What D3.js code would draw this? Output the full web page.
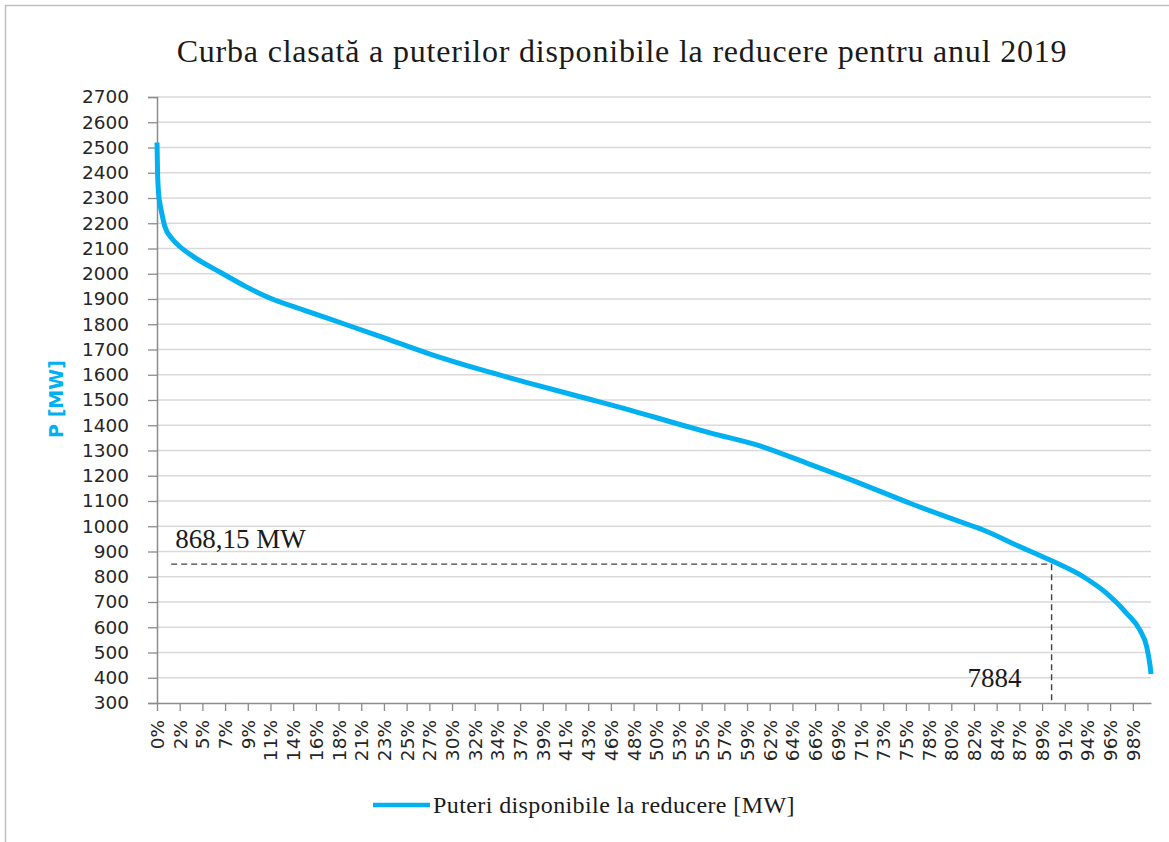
<!DOCTYPE html>
<html>
<head>
<meta charset="utf-8">
<script src="https://cdn.jsdelivr.net/npm/d3@7"></script>
<style>
  body { margin: 0; background: #fff; }
  svg { display: block; }
</style>
</head>
<body>
<svg id="chart" width="1169" height="842"></svg>
<script>
// hours of the year (sorted duration curve) and available power [MW]
const hours = [0, 5, 12, 25, 42, 70, 130, 203, 320, 573, 780, 978, 1300, 1657, 1965, 2406, 2847, 3287, 3728, 4169, 4609, 4874, 5314, 5755, 6196, 6636, 7077, 7282, 7576, 7870, 8164, 8370, 8546, 8663, 8722, 8751, 8760];
const power = [2520, 2400, 2330, 2280, 2240, 2186, 2140, 2107, 2068, 2002, 1950, 1907, 1855, 1800, 1752, 1682, 1621, 1566, 1513, 1460, 1403, 1370, 1318, 1245, 1170, 1091, 1018, 985, 925, 866, 800, 734, 655, 588, 523, 450, 415];

const yTicks = [300, 400, 500, 600, 700, 800, 900, 1000, 1100, 1200, 1300, 1400, 1500, 1600, 1700, 1800, 1900, 2000, 2100, 2200, 2300, 2400, 2500, 2600, 2700];
const xTickLabels = ["0%", "2%", "5%", "7%", "9%", "11%", "14%", "16%", "18%", "21%", "23%", "25%", "27%", "30%", "32%", "34%", "37%", "39%", "41%", "43%", "46%", "48%", "50%", "53%", "55%", "57%", "59%", "62%", "64%", "66%", "69%", "71%", "73%", "75%", "78%", "80%", "82%", "84%", "87%", "89%", "91%", "94%", "96%", "98%"];
const xTickHours = xTickLabels.map((d, i) => i * 200);

const markHour = 7884;
const markPower = 850;     // where the dashed line sits in the picture
const markLabel = "868,15 MW";
const hourLabel = "7884";
const lineStart = 125;

const title = "Curba clasată a puterilor disponibile la reducere pentru anul 2019";
const seriesName = "Puteri disponibile la reducere [MW]";

const blue = "#00B0F0";
const serif = "Liberation Serif, Times New Roman, serif";
const svg = d3.select("#chart");

// chart border
svg.append("rect")
  .attr("x", 5.5).attr("y", 5.5)
  .attr("width", 1300).attr("height", 1000)
  .attr("fill", "none").attr("stroke", "#bfbfbf").attr("stroke-width", 1.5);

const x = d3.scaleLinear().domain([0, 8760]).range([157, 1151]);
const y = d3.scaleLinear().domain([300, 2700]).range([703, 97]);

// gridlines
svg.append("g")
  .selectAll("line")
  .data(yTicks.slice(1))
  .enter()
  .append("line")
  .attr("x1", x(0)).attr("x2", x(8760))
  .attr("y1", d => y(d)).attr("y2", d => y(d))
  .attr("stroke", "#d9d9d9").attr("stroke-width", 1.3);

// y axis
const yAxis = svg.append("g")
  .attr("transform", `translate(${x(0)},0)`)
  .call(d3.axisLeft(y).tickValues(yTicks).tickSize(9).tickPadding(19).tickFormat(d3.format("d")));
yAxis.select(".domain").attr("stroke", "#8c8c8c").attr("stroke-width", 1.5);
yAxis.selectAll(".tick line").attr("stroke", "#8c8c8c").attr("stroke-width", 1.3);
yAxis.selectAll("text")
  .attr("font-family", "DejaVu Sans, sans-serif")
  .attr("font-size", 18.5)
  .attr("fill", "#262626");

// x axis
const xAxis = svg.append("g")
  .attr("transform", `translate(0,${y(300)})`)
  .call(d3.axisBottom(x).tickValues(xTickHours).tickSize(8).tickSizeOuter(0).tickFormat((d, i) => xTickLabels[i]));
xAxis.select(".domain").attr("stroke", "#8c8c8c").attr("stroke-width", 1.5);
xAxis.selectAll(".tick line").attr("stroke", "#8c8c8c").attr("stroke-width", 1.3);
xAxis.selectAll("text")
  .attr("font-family", "DejaVu Sans, sans-serif")
  .attr("font-size", 18.5)
  .attr("fill", "#262626")
  .attr("text-anchor", "end")
  .attr("transform", "rotate(-90)")
  .attr("x", -17)
  .attr("y", 0)
  .attr("dy", "0.35em");

// dashed marker lines
svg.append("line")
  .attr("x1", x(lineStart)).attr("x2", x(markHour))
  .attr("y1", y(markPower)).attr("y2", y(markPower))
  .attr("stroke", "#404040").attr("stroke-width", 1.4).attr("stroke-dasharray", "6,4");
svg.append("line")
  .attr("x1", x(markHour)).attr("x2", x(markHour))
  .attr("y1", y(markPower)).attr("y2", y(310))
  .attr("stroke", "#404040").attr("stroke-width", 1.4).attr("stroke-dasharray", "6,4");

// the curve
const pts = hours.map((h, i) => ({h: h, p: power[i]}));
const line = d3.line()
  .x(d => x(d.h))
  .y(d => y(d.p))
  .curve(d3.curveMonotoneX);
svg.append("path")
  .datum(pts)
  .attr("d", line)
  .attr("fill", "none")
  .attr("stroke", blue)
  .attr("stroke-width", 5)
  .attr("stroke-linejoin", "round");

// annotations
svg.append("text")
  .attr("x", x(lineStart) + 4).attr("y", 548)
  .attr("font-family", serif)
  .attr("font-size", 27).attr("fill", "#1a1a1a")
  .text(markLabel);
svg.append("text")
  .attr("x", x(markHour) - 30).attr("y", 687)
  .attr("text-anchor", "end")
  .attr("font-family", serif)
  .attr("font-size", 27).attr("fill", "#1a1a1a")
  .text(hourLabel);

// title
svg.append("text")
  .attr("x", 622).attr("y", 62)
  .attr("text-anchor", "middle")
  .attr("font-family", serif)
  .attr("font-size", 32).attr("letter-spacing", 0.8).attr("fill", "#1a1a1a")
  .text(title);

// y axis title
svg.append("text")
  .attr("transform", "translate(63,399) rotate(-90)")
  .attr("text-anchor", "middle")
  .attr("font-family", "DejaVu Sans, sans-serif")
  .attr("font-weight", "bold")
  .attr("font-size", 19)
  .attr("fill", blue)
  .text("P [MW]");

// legend
const legend = svg.append("g").attr("transform", "translate(373,805)");
legend.append("line")
  .attr("x1", 0).attr("x2", 57)
  .attr("stroke", blue).attr("stroke-width", 4.5);
legend.append("text")
  .attr("x", 60).attr("y", 8)
  .attr("font-family", serif)
  .attr("font-size", 24).attr("letter-spacing", 0.4).attr("fill", "#1a1a1a")
  .text(seriesName);
</script>
</body>
</html>
